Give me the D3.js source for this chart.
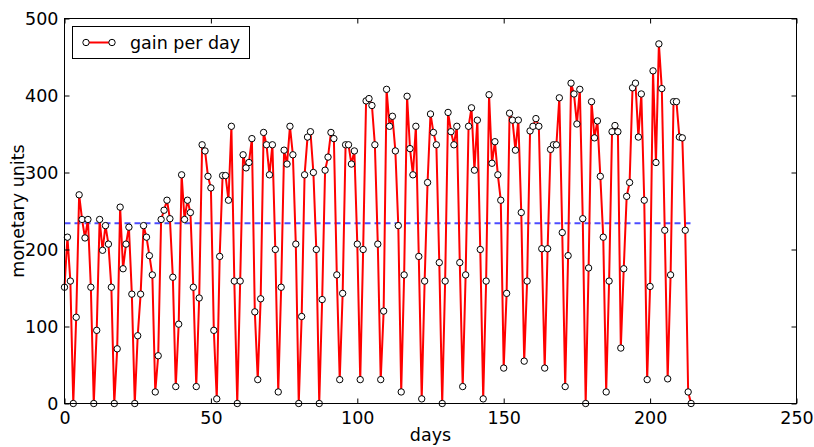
<!DOCTYPE html>
<html><head><meta charset="utf-8">
<script src="https://cdn.jsdelivr.net/npm/d3@7"></script>
<style>body{margin:0;background:#fff}svg{display:block}text{font-family:"DejaVu Sans",sans-serif}</style>
</head><body>
<svg id="c" width="814" height="447"></svg>
<script>
const gainPerDay = [151,216,159,0,112,271,239,215,239,151,
0,95,239,199,231,207,151,0,71,255,
175,207,229,142,0,88,142,231,216,192,
167,15,62,239,251,264,240,164,22,103,
297,239,264,248,151,22,137,336,328,295,
280,95,6,191,296,296,264,360,159,0,
159,323,306,313,344,119,31,136,352,336,
297,336,200,15,151,329,311,360,323,207,
0,113,297,346,353,300,200,0,135,303,
320,352,344,167,31,143,336,336,311,328,
207,31,200,393,396,387,336,207,31,120,
408,360,373,328,231,15,167,399,331,297,
360,191,6,159,287,376,352,336,183,0,
159,378,353,336,360,183,22,167,360,384,
303,368,200,6,159,401,312,340,297,264,
46,143,377,368,329,368,248,55,159,354,
360,370,360,201,46,201,330,336,336,397,
222,22,192,416,402,363,408,240,0,176,
392,345,367,295,216,15,159,353,361,353,
72,175,269,287,410,416,346,402,264,31,
152,432,313,467,409,225,32,167,392,392,
346,345,225,15,0];
const days = gainPerDay.map((_, i) => i);
const xTicks = [0, 50, 100, 150, 200, 250];
const yTicks = [0, 100, 200, 300, 400, 500];
const seriesLabel = "gain per day";
const xLabel = "days", yLabel = "monetary units";

const svg = d3.select("#c");
const L = 64.5, R = 796.5, T = 18.5, B = 403.5;
const x = d3.scaleLinear().domain([0, 250]).range([L, R]);
const y = d3.scaleLinear().domain([0, 500]).range([B, T]);
const data = days.map(d => ({d, v: gainPerDay[d]}));
const meanV = d3.mean(gainPerDay);

// mean line
svg.append("line").attr("x1", x(0)).attr("x2", x(days[days.length-1]))
  .attr("y1", y(meanV)).attr("y2", y(meanV))
  .attr("stroke", "rgba(0,0,255,0.7)").attr("stroke-width", 2).attr("stroke-dasharray", "6,4");

// series line
svg.append("path").datum(data)
  .attr("d", d3.line().x(p => x(p.d)).y(p => y(p.v)))
  .attr("fill", "none").attr("stroke", "red").attr("stroke-width", 2).attr("stroke-linejoin", "round");
svg.append("g").selectAll("circle").data(data).join("circle")
  .attr("cx", p => x(p.d)).attr("cy", p => y(p.v)).attr("r", 3.2)
  .attr("fill", "white").attr("stroke", "black").attr("stroke-width", 1);

// axes
const fs = 17.5;
const gx = svg.append("g").attr("transform", `translate(0,${B})`)
  .call(d3.axisBottom(x).tickValues(xTicks).tickFormat(d3.format("d")).tickSizeInner(-5).tickSizeOuter(0).tickPadding(8));
const gxt = svg.append("g").attr("transform", `translate(0,${T})`)
  .call(d3.axisTop(x).tickValues(xTicks).tickFormat("").tickSizeInner(-5).tickSizeOuter(0));
const gy = svg.append("g").attr("transform", `translate(${L},0)`)
  .call(d3.axisLeft(y).tickValues(yTicks).tickFormat(d3.format("d")).tickSizeInner(-5).tickSizeOuter(0).tickPadding(8));
const gyr = svg.append("g").attr("transform", `translate(${R},0)`)
  .call(d3.axisRight(y).tickValues(yTicks).tickFormat("").tickSizeInner(-5).tickSizeOuter(0));
[gx, gxt, gy, gyr].forEach(g => {
  g.select(".domain").remove();
  g.selectAll(".tick line").attr("stroke", "black");
  g.selectAll(".tick text").attr("font-size", fs).attr("fill", "black").attr("font-family", "DejaVu Sans");
});
gy.selectAll(".tick text").attr("dx", "2");
svg.append("rect").attr("x", L).attr("y", T).attr("width", R - L).attr("height", B - T)
  .attr("fill", "none").attr("stroke", "black").attr("stroke-width", 1);

svg.append("text").attr("x", (L + R) / 2).attr("y", 441).attr("text-anchor", "middle")
  .attr("font-size", fs).text(xLabel);
svg.append("text").attr("transform", `translate(24,${(T + B) / 2}) rotate(-90)`).attr("text-anchor", "middle")
  .attr("font-size", fs).text(yLabel);

// legend
const lg = svg.append("g");
lg.append("rect").attr("x", 72.5).attr("y", 26.5).attr("width", 177).attr("height", 32)
  .attr("fill", "white").attr("stroke", "black").attr("stroke-width", 1);
lg.append("line").attr("x1", 86).attr("x2", 112).attr("y1", 42.5).attr("y2", 42.5)
  .attr("stroke", "red").attr("stroke-width", 2);
[86, 112].forEach(cx => lg.append("circle").attr("cx", cx).attr("cy", 42.5).attr("r", 3.2)
  .attr("fill", "white").attr("stroke", "black"));
lg.append("text").attr("x", 130).attr("y", 49).attr("font-size", fs).text(seriesLabel);
</script>
</body></html>
